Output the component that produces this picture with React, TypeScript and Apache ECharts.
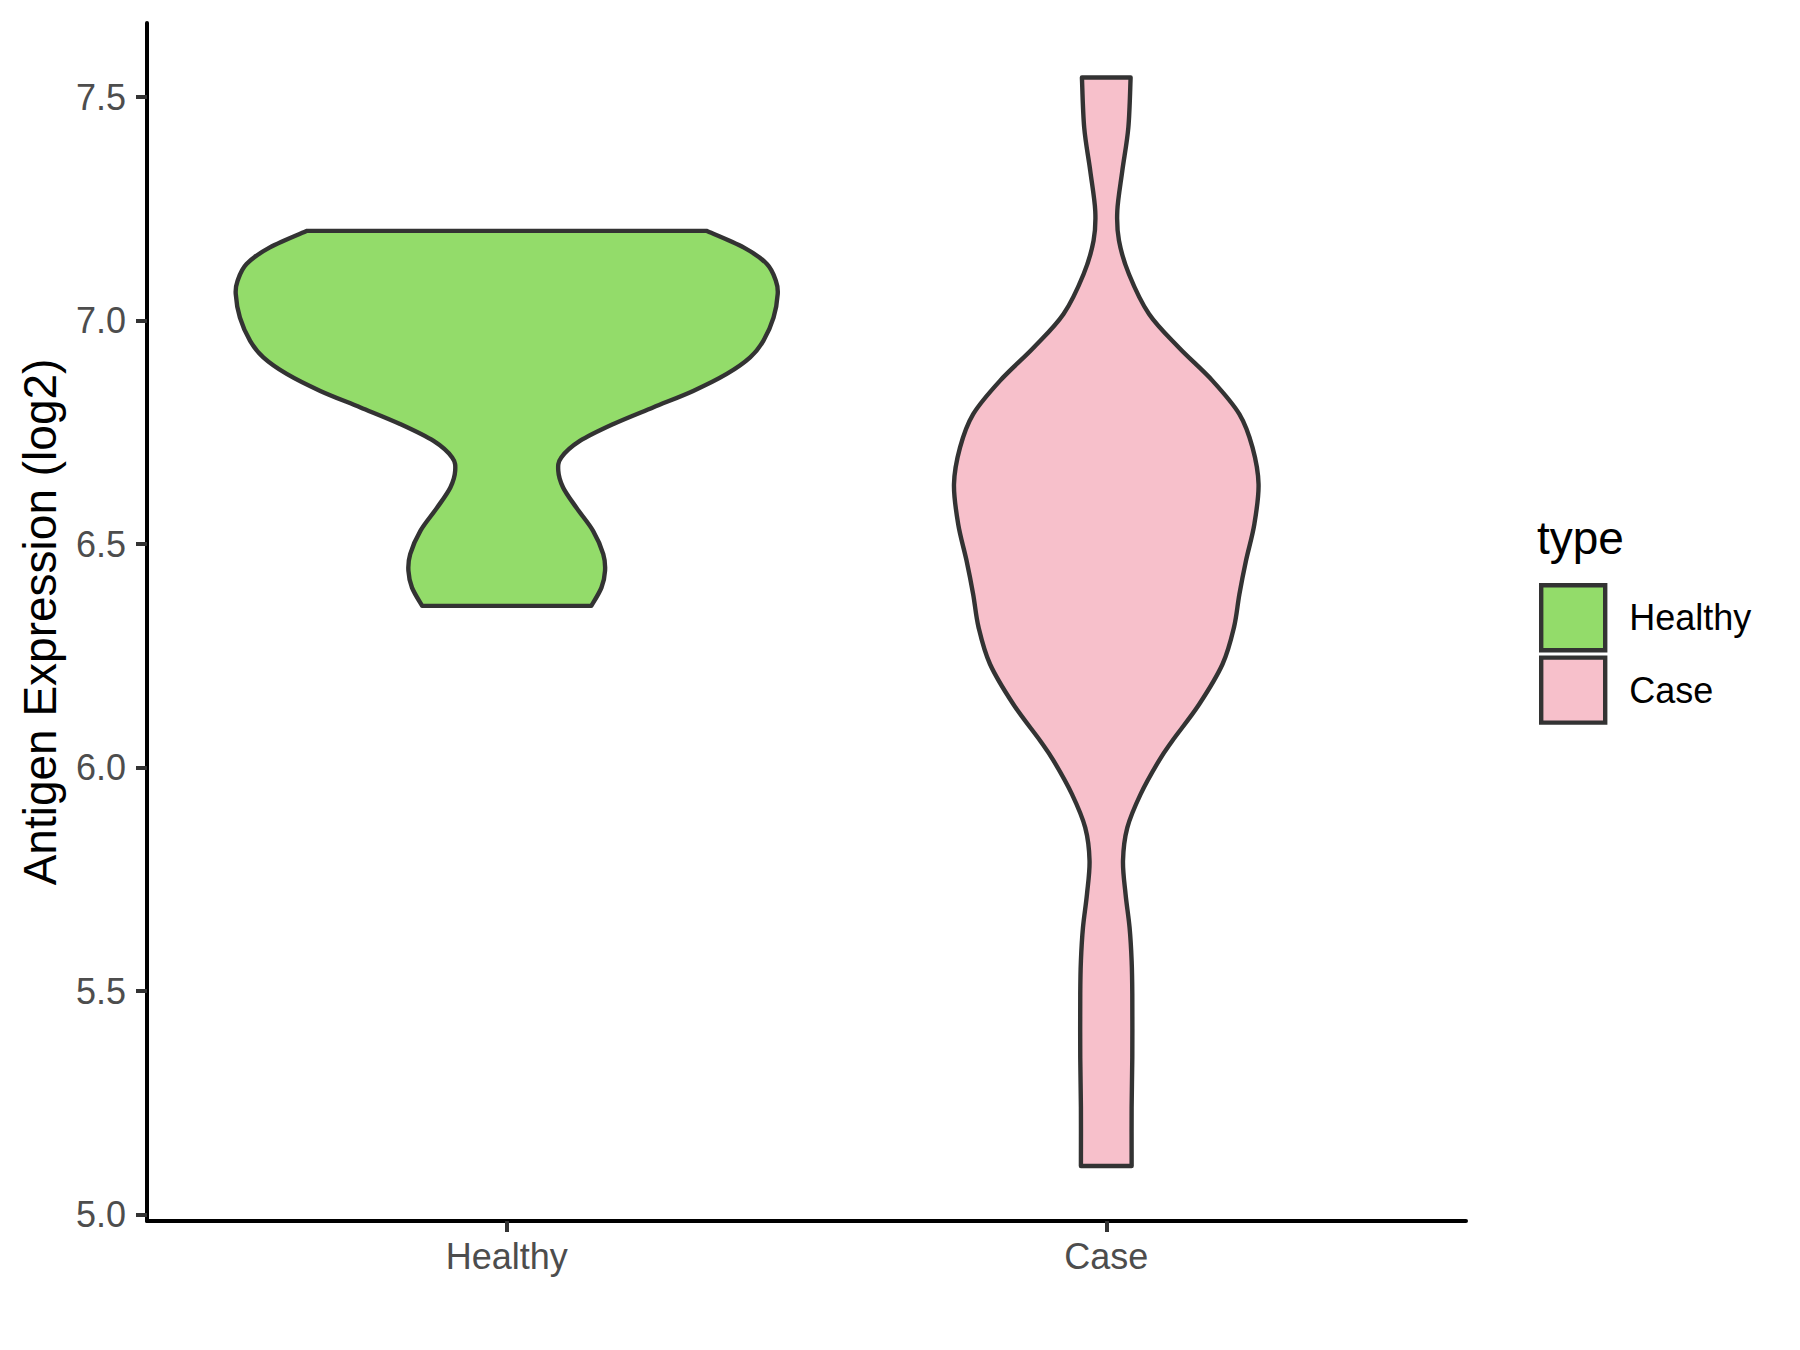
import React, { useEffect, useRef } from "react";
import * as echarts from "echarts";

// ---- data ----
const categories = ["Healthy", "Case"];
const yTicks = [5.0, 5.5, 6.0, 6.5, 7.0, 7.5];
const yMin = 4.986;
const yMax = 7.666;

// violin profile: expression value (log2) and half-width (x-axis units)
const healthyY = [7.201, 7.164, 7.127, 7.089, 7.06, 7.007, 6.955, 6.918, 6.881, 6.843, 6.806, 6.769, 6.731, 6.694, 6.664, 6.627, 6.582, 6.53, 6.478, 6.441, 6.403, 6.362];
const healthyHalfWidth = [0.333, 0.395, 0.434, 0.449, 0.452, 0.445, 0.428, 0.406, 0.367, 0.311, 0.244, 0.178, 0.122, 0.091, 0.086, 0.094, 0.116, 0.144, 0.161, 0.164, 0.158, 0.141];

const caseY = [7.544, 7.432, 7.335, 7.246, 7.179, 7.104, 7.015, 6.94, 6.866, 6.791, 6.716, 6.634, 6.545, 6.463, 6.388, 6.314, 6.232, 6.142, 6.06, 6.016, 5.941, 5.866, 5.792, 5.717, 5.642, 5.568, 5.494, 5.352, 5.24, 5.109];
const caseHalfWidth = [0.0406, 0.0368, 0.0267, 0.0184, 0.0212, 0.0379, 0.0713, 0.121, 0.177, 0.222, 0.244, 0.254, 0.247, 0.233, 0.222, 0.213, 0.194, 0.155, 0.11, 0.088, 0.0573, 0.0351, 0.0279, 0.0322, 0.0389, 0.0423, 0.0434, 0.0434, 0.0423, 0.0423];

const colors = ["#93DC6A", "#F7C0CB"];
const OUTLINE = "#333333";
const FONT = '"Liberation Sans", Arial, Helvetica, sans-serif';

function spline(pts: number[][]): string {
  let d = "";
  for (let i = 0; i < pts.length - 1; i++) {
    const p0 = pts[i - 1] || pts[i];
    const p1 = pts[i];
    const p2 = pts[i + 1];
    const p3 = pts[i + 2] || pts[i + 1];
    const c1x = p1[0] + (p2[0] - p0[0]) / 6;
    const c1y = p1[1] + (p2[1] - p0[1]) / 6;
    const c2x = p2[0] - (p3[0] - p1[0]) / 6;
    const c2y = p2[1] - (p3[1] - p1[1]) / 6;
    d += `C${c1x},${c1y} ${c2x},${c2y} ${p2[0]},${p2[1]}`;
  }
  return d;
}

function violinPath(api: any, cx: number, ys: number[], hws: number[]): string {
  const left = ys.map((y, i) => api.coord([cx - hws[i], y]));
  const right = ys.map((y, i) => api.coord([cx + hws[i], y])).reverse();
  return (
    `M${left[0][0]},${left[0][1]}` +
    spline(left) +
    `L${right[0][0]},${right[0][1]}` +
    spline(right) +
    "Z"
  );
}

const profiles = [
  { ys: healthyY, hws: healthyHalfWidth },
  { ys: caseY, hws: caseHalfWidth },
];

export default function App() {
  const ref = useRef<HTMLDivElement>(null);
  useEffect(() => {
    if (!ref.current) return;
    const chart = echarts.init(ref.current, null, { renderer: "svg" });
    const series = categories.map((name, idx) => ({
      type: "custom",
      name,
      coordinateSystem: "cartesian2d",
      data: [[idx + 1, profiles[idx].ys[0]]],
      itemStyle: { color: colors[idx], borderColor: OUTLINE, borderWidth: 4.4 },
      renderItem: (params: any, api: any) => ({
        type: "path",
        shape: { pathData: violinPath(api, idx + 1, profiles[idx].ys, profiles[idx].hws) },
        style: { fill: colors[idx], stroke: OUTLINE, lineWidth: 4.4, lineJoin: "round" },
      }),
      z: 2,
    }));
    chart.setOption({
      animation: false,
      backgroundColor: "#ffffff",
      title: {
        text: "type",
        left: 1537,
        top: 515,
        padding: 0,
        textStyle: { fontSize: 46, fontWeight: "normal", color: "#000", fontFamily: FONT },
      },
      legend: {
        orient: "vertical",
        left: 1539,
        top: 583,
        padding: 0,
        itemWidth: 64,
        itemHeight: 65,
        itemGap: 3,
        selectedMode: false,
        icon: "rect",
        textStyle: { fontSize: 36, color: "#000", fontFamily: FONT, padding: [0, 0, 0, 19] },
        data: categories.map((name, idx) => ({
          name,
          icon: "rect",
          itemStyle: { color: colors[idx], borderColor: OUTLINE, borderWidth: 4.4 },
        })),
      },
      grid: { left: 147, right: 334, top: 23, bottom: 129, outerBoundsMode: "none", containLabel: false },
      xAxis: {
        type: "value",
        min: 0.4,
        max: 2.6,
        splitLine: { show: false },
        axisLine: { show: true, onZero: false, lineStyle: { color: "#000", width: 4 } },
        axisTick: { show: true, length: 11, customValues: [1, 2], lineStyle: { color: OUTLINE, width: 4 } },
        axisLabel: {
          customValues: [1, 2],
          formatter: (v: number) => categories[Math.round(v) - 1] || "",
          fontSize: 36,
          color: "#4D4D4D",
          fontFamily: FONT,
          margin: 17,
        },
      },
      yAxis: {
        type: "value",
        min: yMin,
        max: yMax,
        name: "Antigen Expression (log2)",
        nameLocation: "middle",
        nameGap: 84,
        nameTextStyle: { fontSize: 46, color: "#000", fontFamily: FONT },
        splitLine: { show: false },
        axisLine: { show: true, onZero: false, lineStyle: { color: "#000", width: 4 } },
        axisTick: { show: true, length: 11, customValues: yTicks, lineStyle: { color: OUTLINE, width: 4 } },
        axisLabel: {
          customValues: yTicks,
          formatter: (v: number) => v.toFixed(1),
          fontSize: 36,
          color: "#4D4D4D",
          fontFamily: FONT,
          margin: 21,
        },
      },
      series,
    });
    return () => chart.dispose();
  }, []);
  return (
    <div
      ref={ref}
      style={{ position: "fixed", left: 0, top: 0, width: 1800, height: 1350, background: "#fff" }}
    />
  );
}
